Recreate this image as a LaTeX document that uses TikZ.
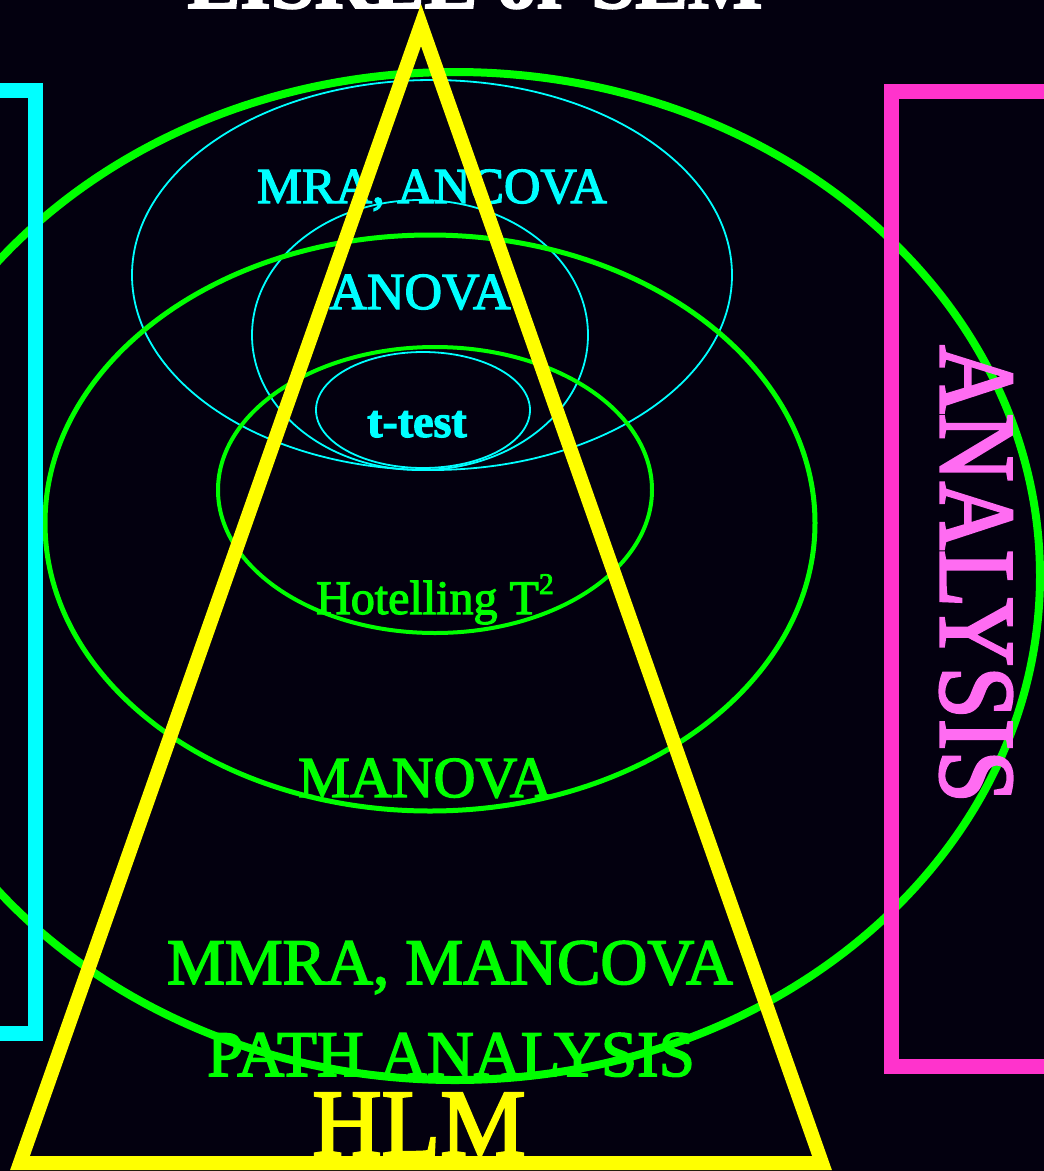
\documentclass[tikz,border=0pt]{standalone}
\usepackage{xcolor}
\usepackage{fontspec}
\setmainfont{Liberation Serif}
\newfontfamily\heavyserif[FakeBold=2.5]{Liberation Serif}
\usetikzlibrary{positioning}

\definecolor{bgnavy}{HTML}{03000F}
\definecolor{limegreen}{HTML}{00FF00}
\definecolor{aqua}{HTML}{00FFFF}
\definecolor{lemon}{HTML}{FFFF00}
\definecolor{hotpink}{HTML}{FF33CC}
\definecolor{softpink}{HTML}{FF6CF2}

\newcommand{\fs}[1]{\fontsize{#1}{#1}\selectfont}

\begin{document}
\begin{tikzpicture}[
    x=1pt,y=-1pt,
    ring/.style={draw=aqua,line width=1.8pt},
    band/.style={draw=limegreen},
    lbl/.style={inner sep=0pt,anchor=base,font=\heavyserif},
    frame/.style={line width=15pt}
]
% canvas
\useasboundingbox (0,0) rectangle (1044,1171);
\clip (0,0) rectangle (1044,1171);
\fill[bgnavy] (0,0) rectangle (1044,1171);

% univariate family
\draw[ring] (432,275) ellipse [x radius=300,y radius=195];
\draw[ring] (420,335) ellipse [x radius=168,y radius=135];
\draw[ring] (423,410) ellipse [x radius=107,y radius=58];

% multivariate family
\draw[band,line width=8pt] (455,576) ellipse [x radius=585,y radius=504];
\draw[band,line width=5pt] (430,523) ellipse [x radius=385,y radius=288];
\draw[band,line width=4pt] (435,490) ellipse [x radius=217,y radius=143];

% labels
\node[lbl,text=aqua] (mra) at (432,203) {\fs{50.5}MRA, ANCOVA};
\node[lbl,text=aqua] (anova) at (420,309) {\fs{52}ANOVA};
\node[lbl,text=aqua] (ttest) at (417,437) {\fs{46}\bfseries t-test};
\node[lbl,text=limegreen] (hotel) at (435,614) {\fs{48}Hotelling T\raisebox{20pt}{\fs{30}2}};
\node[lbl,text=limegreen] (manova) at (425,797) {\fs{58}MANOVA};
\node[lbl,text=limegreen] (mmra) at (450,984) {\fs{65}MMRA, MANCOVA};
\node[lbl,text=limegreen] (path) at (451,1076) {\fs{65}PATH ANALYSIS};
\node[lbl,text=lemon] (hlm) at (419,1156) {\fs{96}HLM};
\node[lbl,text=white] (lisrel) at (475,8) {\fs{79}\bfseries LISREL or SEM};

% pyramid
\draw[lemon,line width=14pt] (421,25) -- (20,1163) -- (822,1163) -- cycle;

% side frames
\draw[aqua,frame] (-100,90) rectangle (35,1033);
\draw[hotpink,frame] (891,91) rectangle (1200,1066);
\node[inner sep=0pt,text=softpink,font=\heavyserif,rotate=-90,xscale=0.875] (analysis) at (976,574) {\fs{108}ANALYSIS};
\end{tikzpicture}
\end{document}
